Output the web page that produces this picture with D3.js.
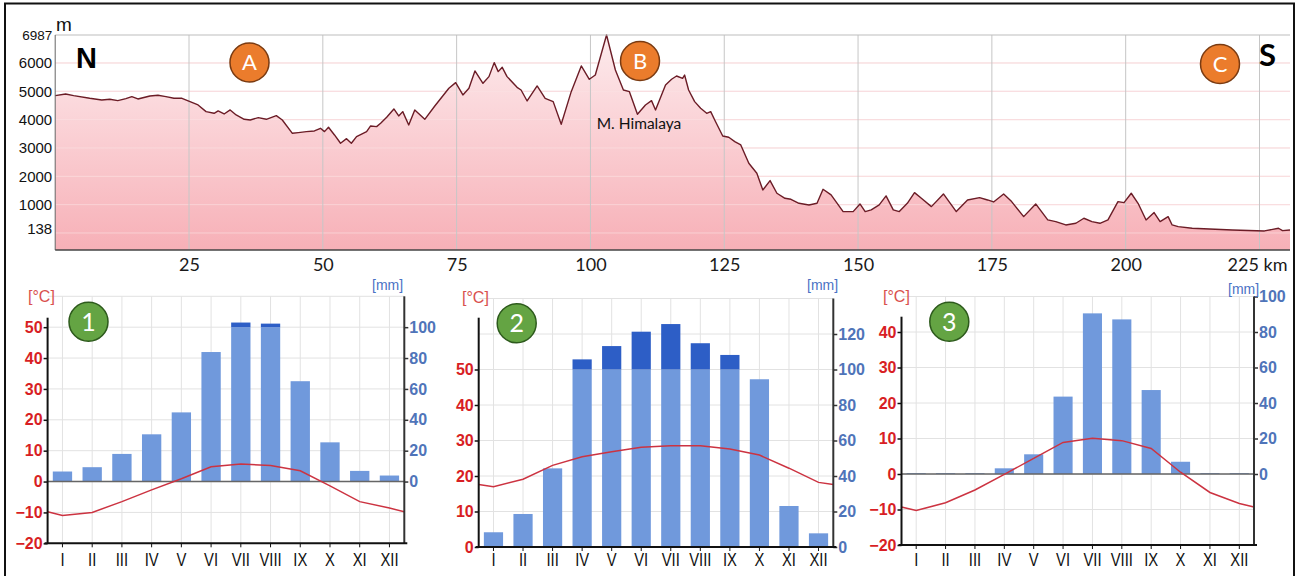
<!DOCTYPE html>
<html>
<head>
<meta charset="utf-8">
<script src="https://cdn.jsdelivr.net/npm/d3@7"></script>
<style>
  body { margin: 0; background: #fff; }
  svg { display: block; }
  text { font-family: "Liberation Sans", Arial, sans-serif; }
</style>
</head>
<body>
<div id="chart"></div>
<script>
// elevation profile N -> S (km along the section, metres)
const profileKm = [
  0, 1.95, 3.45, 6.45, 8.7, 10.2, 11.7, 13.2, 14.32, 15.45, 17.69, 19.19, 20.69, 22.19, 23.69,
  25.19, 26.69, 28.19, 29.69, 30.44, 31.56, 32.69, 33.81, 35.31, 36.44, 37.94, 39.44, 41.31, 42.43,
  44.31, 45.43, 46.93, 48.43, 49.56, 50.31, 51.06, 52.18, 53.31, 54.43, 55.33, 56.3, 58.18, 58.93,
  60.05, 60.8, 61.93, 63.28, 64.18, 64.93, 66.05, 67.18, 69.05, 70.92, 73.55, 74.82, 76.17, 77.3,
  78.42, 79.92, 81.04, 82.02, 82.77, 83.52, 84.42, 86.29, 87.04, 88.17, 88.92, 90.04, 91.54, 93.04,
  94.54, 96.41, 98.29, 99.79, 100.91, 103.01, 104.66, 106.16, 107.28, 108.78, 110.28, 111.41, 112.16,
  114.03, 115.16, 116.09, 117.22, 117.59, 118.34, 119.47, 120.59, 121.72, 122.47, 123.22, 124.72,
  125.84, 126.97, 128.09, 129.59, 131.09, 132.21, 133.56, 134.84, 136.34, 137.46, 138.96, 140.83,
  142.33, 143.46, 144.96, 147.21, 149.08, 150.36, 151.33, 152.46, 153.95, 155.23, 156.58, 157.7,
  159.2, 160.55, 161.83, 163.7, 165.95, 168.35, 170.45, 172.7, 174.2, 175.32, 177.2, 178.69, 180.94,
  183.19, 185.44, 186.94, 188.81, 190.69, 192.19, 193.69, 195.19, 196.69, 198.56, 199.69, 201.04,
  202.31, 203.81, 205.31, 206.43, 207.93, 208.68, 209.81, 212.43, 219.93, 225.93, 228.55, 229.3, 230.7
];
const profileElev = [
  4847, 4906, 4847, 4753, 4694, 4718, 4671, 4741, 4812, 4730, 4836, 4859, 4812, 4753, 4753,
  4636, 4518, 4283, 4224, 4306, 4200, 4342, 4165, 4012, 3989, 4071, 4012, 4142, 3989,
  3518, 3542, 3577, 3601, 3695, 3577, 3730, 3460, 3166, 3330, 3166, 3401, 3577, 3777,
  3754, 3871, 4083, 4377, 4130, 4283, 3812, 4342, 4012, 4483, 5106, 5306, 4871, 5106,
  5718, 5282, 5518, 6012, 5694, 5847, 5518, 5141, 5047, 4659, 4871, 5188, 4753, 4636,
  3836, 4988, 5894, 5424, 5576, 6987, 5753, 5047, 4988, 4189, 4518, 4671, 4342,
  5224, 5424, 5541, 5459, 5576, 5047, 4636, 4400, 4224, 4283, 3989, 3424,
  3377, 3224, 3107, 2460, 2107, 1519, 1849, 1402, 1225, 1190, 1049, 990,
  1049, 1543, 1343, 755, 755, 1025, 755, 814, 990, 1308, 814, 755,
  1049, 1425, 1225, 931, 1378, 755, 1166, 1249, 1166, 1096, 1378, 1108, 578,
  1025, 461, 402, 284, 343, 520, 402, 343, 461, 1108, 1072, 1402,
  1049, 461, 720, 402, 578, 284, 226, 167, 108, 73, 167, 85, 108
];
const kmTicks = [25, 50, 75, 100, 125, 150, 175, 200, 225];
const elevTicks = [138, 1000, 2000, 3000, 4000, 5000, 6000, 6987];
const elevGrid = [0, 1000, 2000, 3000, 4000, 5000, 6000];

// climate diagrams: mean temperature [°C] and precipitation [mm]
const months = ['I', 'II', 'III', 'IV', 'V', 'VI', 'VII', 'VIII', 'IX', 'X', 'XI', 'XII'];
const temp1 = [-11, -10, -6.5, -2.7, 0.9, 4.8, 5.7, 5.2, 3.5, -1.4, -6.5, -8.6];
const precip1 = [6.5, 9.3, 17.9, 30.6, 44.8, 83.9, 103, 102.3, 65, 25.4, 6.9, 3.9];
const temp2 = [17, 19.1, 23, 25.4, 26.8, 28.1, 28.5, 28.5, 27.6, 25.9, 22.2, 18.2];
const precip2 = [8.3, 18.6, 44.3, 105.7, 113.2, 121.3, 125.6, 114.8, 108.2, 94.5, 23.1, 7.7];
const temp3 = [-10.3, -8.1, -4.5, -0.1, 4.4, 8.9, 10.1, 9.4, 7.2, 0.5, -5.2, -8.3];
const precip3 = [0.5, 0.5, 0.5, 3.2, 11.1, 43.6, 90.5, 87.1, 47.3, 6.9, 0.5, 0.5];
const tempTicks1 = [-20, -10, 0, 10, 20, 30, 40, 50];
const tempTicks2 = [0, 10, 20, 30, 40, 50];
const tempTicks3 = [-20, -10, 0, 10, 20, 30, 40];
const precipTicks1 = [0, 20, 40, 60, 80, 100];
const precipTicks2 = [0, 20, 40, 60, 80, 100, 120];
const precipTicks3 = [0, 20, 40, 60, 80, 100];

const svg = d3.select('#chart').append('svg')
    .attr('width', 1298)
    .attr('height', 576);

// outer frame of the figure
svg.append('path')
    .attr('d', 'M5,576V3.5H1294V576')
    .attr('fill', 'none')
    .attr('stroke', '#111')
    .attr('stroke-width', 2);

class ProfileChart {
    constructor(_config) {
        this.config = _config;
        this.initVis();
    }

    initVis() {
        let vis = this;
        const c = vis.config;
        vis.g = svg.append('g');

        vis.xScale = d3.scaleLinear().domain([0, 230.7]).range([c.left, c.right]);
        vis.yScale = d3.scaleLinear().domain([-600, 6987]).range([c.bottom, c.top]);

        // pink fill getting stronger towards the bottom
        const grad = svg.append('defs').append('linearGradient')
            .attr('id', 'elevFill')
            .attr('gradientUnits', 'userSpaceOnUse')
            .attr('x1', 0).attr('x2', 0)
            .attr('y1', c.top).attr('y2', c.bottom);
        grad.append('stop').attr('offset', '0%').attr('stop-color', '#fdebed');
        grad.append('stop').attr('offset', '100%').attr('stop-color', '#f7b0b7');

        vis.renderVis();
    }

    renderVis() {
        let vis = this;
        const c = vis.config;
        const pts = profileKm.map((k, i) => [k, profileElev[i]]);

        // horizontal gridlines
        vis.g.selectAll('.hgrid')
            .data(elevGrid)
            .join('line')
            .attr('class', 'hgrid')
            .attr('x1', c.left).attr('x2', c.right)
            .attr('y1', d => vis.yScale(d)).attr('y2', d => vis.yScale(d))
            .attr('stroke', '#f5d3d6');

        const area = d3.area()
            .x(d => vis.xScale(d[0]))
            .y0(c.bottom)
            .y1(d => vis.yScale(d[1]));
        vis.g.append('path')
            .datum(pts)
            .attr('d', area)
            .attr('fill', 'url(#elevFill)');

        // faint gridlines seen through the fill
        vis.g.selectAll('.hgrid2')
            .data(elevGrid)
            .join('line')
            .attr('class', 'hgrid2')
            .attr('x1', c.left).attr('x2', c.right)
            .attr('y1', d => vis.yScale(d)).attr('y2', d => vis.yScale(d))
            .attr('stroke', '#fbe3e5')
            .attr('stroke-opacity', 0.6);

        vis.g.selectAll('.vgrid')
            .data(kmTicks)
            .join('line')
            .attr('class', 'vgrid')
            .attr('x1', d => vis.xScale(d)).attr('x2', d => vis.xScale(d))
            .attr('y1', c.top).attr('y2', c.bottom)
            .attr('stroke', '#c6c6c6');

        const line = d3.line()
            .x(d => vis.xScale(d[0]))
            .y(d => vis.yScale(d[1]));
        vis.g.append('path')
            .datum(pts)
            .attr('d', line)
            .attr('fill', 'none')
            .attr('stroke', '#6b1c26')
            .attr('stroke-width', 1.4)
            .attr('stroke-linejoin', 'round');

        // frame of the plot
        vis.g.append('line')
            .attr('x1', c.left).attr('x2', c.right).attr('y1', c.top).attr('y2', c.top)
            .attr('stroke', '#bdbdbd');
        vis.g.append('line')
            .attr('x1', c.left).attr('x2', c.left).attr('y1', c.top).attr('y2', c.bottom)
            .attr('stroke', '#666');
        vis.g.append('line')
            .attr('x1', c.left).attr('x2', c.right).attr('y1', c.bottom).attr('y2', c.bottom)
            .attr('stroke', '#444').attr('stroke-width', 1.5);

        // axes
        const xAxis = d3.axisBottom(vis.xScale)
            .tickValues(kmTicks)
            .tickSize(0)
            .tickPadding(8)
            .tickFormat(d => d === 225 ? '225 km' : d);
        const xg = vis.g.append('g')
            .attr('transform', `translate(0,${c.bottom})`)
            .call(xAxis)
            .call(g => g.select('.domain').remove());
        xg.selectAll('text')
            .attr('fill', '#1a1a1a')
            .style('font-family', 'Lato, "Open Sans", sans-serif')
            .style('font-size', '18px');
        xg.selectAll('.tick').filter(d => d === 225).select('text')
            .attr('text-anchor', 'end')
            .attr('x', 1287 - vis.xScale(225));

        const yAxis = d3.axisLeft(vis.yScale)
            .tickValues(elevTicks)
            .tickSize(0)
            .tickPadding(3)
            .tickFormat(d => String(d));
        const yg = vis.g.append('g')
            .attr('transform', `translate(${c.left},0)`)
            .call(yAxis)
            .call(g => g.select('.domain').remove());
        yg.selectAll('text')
            .attr('fill', '#111')
            .style('font-family', '"Liberation Sans", Arial, sans-serif')
            .style('font-size', d => d === 6987 ? '13.5px' : '15px');

        vis.g.append('text')
            .attr('x', 56).attr('y', 31)
            .style('font-size', '19px')
            .attr('fill', '#111')
            .text('m');

        // compass letters and section markers
        vis.g.append('text')
            .attr('x', 76).attr('y', 68)
            .style('font-size', '29px').style('font-weight', 'bold')
            .text('N');
        vis.g.append('text')
            .attr('x', 1259).attr('y', 66)
            .style('font-family', 'Lato, sans-serif')
            .style('font-size', '31px').style('font-weight', 'bold')
            .text('S');

        const markers = vis.g.selectAll('.marker')
            .data(c.markers)
            .join('g')
            .attr('class', 'marker')
            .attr('transform', d => `translate(${d.x},${d.y})`);
        markers.append('circle')
            .attr('r', 19.5)
            .attr('fill', '#eb7c2c')
            .attr('stroke', '#7a3b12')
            .attr('stroke-width', 1.5);
        markers.append('text')
            .attr('text-anchor', 'middle')
            .attr('dy', '0.36em')
            .attr('fill', '#fff')
            .style('font-family', 'Lato, sans-serif')
            .style('font-size', '22px')
            .text(d => d.label);

        vis.g.append('text')
            .attr('x', 639).attr('y', 129)
            .attr('text-anchor', 'middle')
            .style('font-family', 'Lato, "Open Sans", sans-serif')
            .style('font-size', '15.5px')
            .attr('fill', '#111')
            .text('M. Himalaya');
    }
}

class ClimateChart {
    constructor(_config, _temp, _precip) {
        this.config = _config;
        this.temp = _temp;
        this.precip = _precip;
        this.initVis();
    }

    initVis() {
        let vis = this;
        const c = vis.config;
        vis.g = svg.append('g');

        vis.xScale = d3.scaleBand()
            .domain(months)
            .range([c.x0, c.x1])
            .paddingInner(0.35)
            .paddingOuter(0.175);
        vis.yTemp = d3.scaleLinear().domain(c.tDomain).range([c.yBottom, c.yTop]);
        // walter-lieth style: 10 °C matches 20 mm
        vis.yPrec = d3.scaleLinear().domain(c.tDomain.map(d => d * 2)).range([c.yBottom, c.yTop]);

        vis.renderVis();
    }

    renderVis() {
        let vis = this;
        const c = vis.config;
        const mid = d => vis.xScale(d) + vis.xScale.bandwidth() / 2;

        // gridlines
        vis.g.selectAll('.hgrid')
            .data(d3.range(c.tDomain[0], c.tDomain[1] + 1, 10))
            .join('line')
            .attr('class', 'hgrid')
            .attr('x1', c.x0).attr('x2', c.x1)
            .attr('y1', d => vis.yTemp(d)).attr('y2', d => vis.yTemp(d))
            .attr('stroke', '#e2e2e2');
        vis.g.selectAll('.vgrid')
            .data(months)
            .join('line')
            .attr('class', 'vgrid')
            .attr('x1', mid).attr('x2', mid)
            .attr('y1', c.yTop).attr('y2', c.yBottom)
            .attr('stroke', '#e2e2e2');

        // precipitation bars, the part above 100 mm darker
        vis.g.selectAll('.bar')
            .data(vis.precip)
            .join('rect')
            .attr('class', 'bar')
            .attr('x', (d, i) => vis.xScale(months[i]))
            .attr('width', vis.xScale.bandwidth())
            .attr('y', d => vis.yPrec(Math.min(d, 100)))
            .attr('height', d => vis.yPrec(0) - vis.yPrec(Math.min(d, 100)))
            .attr('fill', '#7099dc');
        vis.g.selectAll('.bar-hi')
            .data(vis.precip.map((d, i) => ({m: months[i], v: d})).filter(d => d.v > 100))
            .join('rect')
            .attr('class', 'bar-hi')
            .attr('x', d => vis.xScale(d.m))
            .attr('width', vis.xScale.bandwidth())
            .attr('y', d => vis.yPrec(d.v))
            .attr('height', d => vis.yPrec(100) - vis.yPrec(d.v))
            .attr('fill', '#2d5ec6');

        // zero line
        if (c.tDomain[0] < 0) {
            vis.g.append('line')
                .attr('x1', c.x0).attr('x2', c.x1)
                .attr('y1', vis.yTemp(0)).attr('y2', vis.yTemp(0))
                .attr('stroke', '#666').attr('stroke-width', 1.5);
        }

        // temperature curve, closed at both edges with the dec/jan mean
        const edge = (vis.temp[0] + vis.temp[11]) / 2;
        const tPts = [[c.x0, edge]]
            .concat(vis.temp.map((t, i) => [mid(months[i]), t]))
            .concat([[c.x1, edge]]);
        vis.g.append('path')
            .datum(tPts)
            .attr('d', d3.line().x(d => d[0]).y(d => vis.yTemp(d[1])))
            .attr('fill', 'none')
            .attr('stroke', '#cc3341')
            .attr('stroke-width', 1.5);

        // left axis (°C)
        const yl = vis.g.append('g')
            .attr('transform', `translate(${c.x0},0)`)
            .call(d3.axisLeft(vis.yTemp).tickValues(c.tempTicks).tickSize(4).tickPadding(1))
            .call(g => g.select('.domain').remove());
        yl.selectAll('line').attr('stroke', '#111').attr('stroke-width', 1.5);
        yl.selectAll('text')
            .attr('fill', '#d81e24')
            .attr('font-weight', 'bold')
            .style('font-size', '16px')
            .style('font-weight', '700');
        vis.g.append('line')
            .attr('x1', c.x0).attr('x2', c.x0)
            .attr('y1', c.leftTop).attr('y2', c.yBottom)
            .attr('stroke', '#111').attr('stroke-width', 2);

        // right axis (mm)
        const yr = vis.g.append('g')
            .attr('transform', `translate(${c.x1},0)`)
            .call(d3.axisRight(vis.yPrec).tickValues(c.precipTicks).tickSize(4).tickPadding(1))
            .call(g => g.select('.domain').remove());
        yr.selectAll('line').attr('stroke', '#333').attr('stroke-width', 1.5);
        yr.selectAll('text')
            .attr('fill', '#4f74b9')
            .attr('font-weight', 'bold')
            .style('font-size', '16px')
            .style('font-weight', '700');
        vis.g.append('line')
            .attr('x1', c.x1).attr('x2', c.x1)
            .attr('y1', c.yTop).attr('y2', c.yBottom)
            .attr('stroke', '#333').attr('stroke-width', 2);

        // month axis, narrow lettering
        const xa = vis.g.append('g')
            .attr('transform', `translate(0,${c.yBottom})`)
            .call(d3.axisBottom(vis.xScale).tickSize(4).tickPadding(566 - c.yBottom - 17).tickSizeOuter(0))
            .call(g => g.select('.domain').remove());
        xa.selectAll('line').attr('stroke', '#111');
        xa.selectAll('text')
            .attr('fill', '#111')
            .attr('transform', 'scale(0.8,1)')
            .style('font-size', '18.5px');
        vis.g.append('line')
            .attr('x1', c.x0 - 3).attr('x2', c.x1 + 3)
            .attr('y1', c.yBottom).attr('y2', c.yBottom)
            .attr('stroke', '#111').attr('stroke-width', 2);

        // unit labels
        vis.g.append('text')
            .attr('x', c.cLabel[0]).attr('y', c.cLabel[1])
            .attr('fill', '#d9504e')
            .style('font-size', '16px')
            .text('[°C]');
        vis.g.append('text')
            .attr('x', c.mmLabel[0]).attr('y', c.mmLabel[1])
            .attr('fill', '#4a72c4')
            .style('font-size', '14px')
            .text('[mm]');

        // numbered badge
        const b = vis.g.append('g').attr('transform', `translate(${c.badge[0]},${c.badge[1]})`);
        b.append('circle')
            .attr('r', 19.5)
            .attr('fill', '#64a443')
            .attr('stroke', '#2d5a1c')
            .attr('stroke-width', 1.5);
        b.append('text')
            .attr('text-anchor', 'middle')
            .attr('dy', '0.36em')
            .attr('fill', '#fff')
            .style('font-family', 'Lato, sans-serif')
            .style('font-size', '25px')
            .text(c.number);
    }
}

new ProfileChart({
    left: 55.2, right: 1290, top: 35, bottom: 250,
    markers: [
        {label: 'A', x: 249.5, y: 62.5},
        {label: 'B', x: 640, y: 61},
        {label: 'C', x: 1220, y: 64}
    ]
});

new ClimateChart({
    number: '1', x0: 47.6, x1: 404.3, tDomain: [-20, 60], yBottom: 543.3, yTop: 296.3, leftTop: 317.7,
    tempTicks: tempTicks1, precipTicks: precipTicks1,
    cLabel: [28, 302], mmLabel: [372, 290], badge: [88.5, 321.7]
}, temp1, precip1);

new ClimateChart({
    number: '2', x0: 478.7, x1: 833.3, tDomain: [0, 70], yBottom: 547, yTop: 298.5, leftTop: 317.7,
    tempTicks: tempTicks2, precipTicks: precipTicks2,
    cLabel: [462, 303], mmLabel: [807, 290], badge: [516.7, 323.3]
}, temp2, precip2);

new ClimateChart({
    number: '3', x0: 901.5, x1: 1254, tDomain: [-20, 50], yBottom: 545, yTop: 296.5, leftTop: 316.7,
    tempTicks: tempTicks3, precipTicks: precipTicks3,
    cLabel: [883, 302], mmLabel: [1228, 294], badge: [949.3, 321.7]
}, temp3, precip3);
</script>
</body>
</html>
